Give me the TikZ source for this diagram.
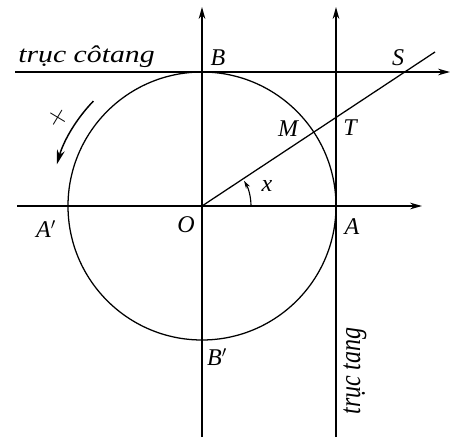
\documentclass[tikz,border=0pt]{standalone}
\usepackage{fontspec}
\setmainfont{Liberation Serif}
\usetikzlibrary{arrows.meta,calc}
\begin{document}
\begin{tikzpicture}[x=0.75pt,y=0.75pt,
  axis/.style={line width=0.95pt,-{Stealth[length=9pt,width=5pt]}},
  curve/.style={line width=0.95pt},
  lab/.style={font=\fontsize{18}{20}\selectfont\itshape, inner sep=0pt},
  axlab/.style={font=\fontsize{18}{20}\selectfont\itshape, inner sep=0pt, xscale=1.24}]
\useasboundingbox (0,0) rectangle (454,437);
% points
\coordinate (O) at (202,231);
\coordinate (A) at (336,231);
\coordinate (A1) at (68,231);
\coordinate (B) at (202,365);
\coordinate (B1) at (202,97);
\coordinate (M) at ($(O)+(33.4:134)$);
\coordinate (T) at (336,319.4);
\coordinate (S) at (405,365);
% axis ends
\coordinate (hl) at (17,231);
\coordinate (hr) at (422,231);
\coordinate (vb) at (202,0);
\coordinate (vt) at (202,430);
\coordinate (tb) at (336,0);
\coordinate (tt) at (336,430);
\coordinate (cl) at (15,365);
\coordinate (cr) at (450,365);
\coordinate (lend) at (435,385);
% axes
\draw[axis] (hl) -- (hr);
\draw[axis] (vb) -- (vt);
\draw[axis] (tb) -- (tt);
\draw[axis] (cl) -- (cr);
% circle
\draw[curve] (O) circle[radius=134];
% ray
\draw[curve] (O) -- (lend);
% angle
\draw[line width=0.85pt,-{Stealth[length=6pt,width=3.5pt]}] ($(O)+(49,0)$) arc[start angle=0,end angle=31,radius=49];
% orientation arrow
\draw[line width=1.1pt,-{Stealth[length=11pt,width=6pt]}] ($(O)+(136:151)$) arc[start angle=136,end angle=164,radius=151];
\node[font=\fontsize{22}{24}\selectfont, rotate=-31] (plus) at ($(O)+(148.6:169)$) {$+$};
% labels
\node[axlab, anchor=base west] (cot) at (18,375) {trục côtang};
\node[axlab, rotate=90] (tan) at (355,66) {trục tang};
\node[lab] (lB) at (218,379) {B};
\node[lab] (lS) at (398,379) {S};
\node[lab] (lM) at (288,308) {M};
\node[lab] (lT) at (350,309) {T};
\node[lab] (lx) at (267,251) {x};
\node[lab] (lA1) at (46,208) {A$'$};
\node[lab] (lO) at (186,212) {O};
\node[lab] (lA) at (352,210) {A};
\node[lab] (lB1) at (217,80) {B$'$};
\end{tikzpicture}
\end{document}
